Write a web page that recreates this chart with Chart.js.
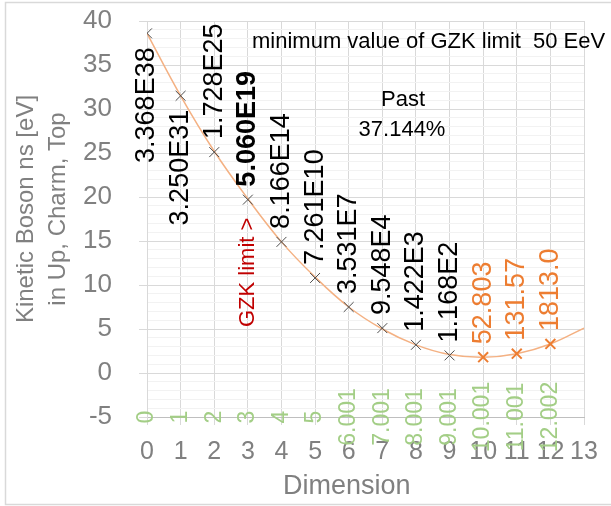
<!DOCTYPE html>
<html>
<head>
<meta charset="utf-8">
<script src="https://cdn.jsdelivr.net/npm/chart.js@4.4.1/dist/chart.umd.min.js"></script>
<style>
  html, body { margin: 0; padding: 0; background: #fff; }
  canvas { display: block; }
</style>
</head>
<body>
<canvas id="chart" width="611" height="506"></canvas>
<script>
// dimension vs kinetic energy
const dims = [0, 1, 2, 3, 4, 5, 6, 7, 8, 9, 10, 11, 12];
const kineticEv = [38.6, 31.5, 25.1, 19.7, 14.9, 10.8, 7.5, 5.1, 3.2, 2.0, 1.8, 2.2, 3.3];
const energyLabels = ['3.368E38', '3.250E31', '1.728E25', '5.060E19', '8.166E14', '7.261E10',
  '3.531E7', '9.548E4', '1.422E3', '1.168E2', '52.803', '131.57', '1813.0'];
const dimLabels = ['0', '1', '2', '3', '4', '5', '6.001', '7.001', '8.001', '9.001', '10.001', '11.001', '12.002'];
// polynomial trend, read at each integer dimension
const trendDims = [0, 1, 2, 3, 4, 5, 6, 7, 8, 9, 10, 11, 12, 13];
const trendEv = [38.6, 31.5, 25.2, 19.8, 14.9, 10.9, 7.5, 5.0, 3.2, 2.1, 1.8, 2.2, 3.3, 5.1];
const dimLabelLevel = -5;
const lastPast = 9;     // 0..9 black, rest orange
const gzkIndex = 3;
const labelsBelow = [0, 1];

Chart.defaults.font.family = 'Arial, "Liberation Sans", sans-serif';

const grey = '#808080';
const orange = '#ed7d31';
const FONT = 'Arial, "Liberation Sans", sans-serif';

const pts = (xs, ys) => xs.map((x, i) => ({ x, y: ys[i] }));

const annotations = {
  id: 'annotations',
  beforeDraw(chart) {
    const { ctx, width, height } = chart;
    ctx.save();
    ctx.fillStyle = '#fff';
    ctx.fillRect(0, 0, width, height);
    ctx.strokeStyle = '#d9d9d9';
    ctx.lineWidth = 1.5;
    ctx.strokeRect(5.5, 2.5, width + 10, height - 4);
    ctx.restore();
  },
  afterDatasetsDraw(chart) {
    const { ctx, chartArea: area, scales: { x, y } } = chart;
    const vertical = (text, px, py, align, font, color) => {
      ctx.save();
      ctx.translate(px, py);
      ctx.rotate(-Math.PI / 2);
      ctx.textAlign = align;
      ctx.textBaseline = 'middle';
      ctx.font = font;
      ctx.fillStyle = color;
      ctx.fillText(text, 0, 0);
      ctx.restore();
    };
    dims.forEach((d, i) => {
      const px = x.getPixelForValue(d);
      const py = y.getPixelForValue(kineticEv[i]);
      const font = (i === gzkIndex ? 'bold ' : '') + '27px ' + FONT;
      const color = i > lastPast ? orange : '#000';
      if (labelsBelow.includes(i)) vertical(energyLabels[i], px, py + 14, 'right', font, color);
      else vertical(energyLabels[i], px, py - 13, 'left', font, color);
      vertical(dimLabels[i], px, y.getPixelForValue(dimLabelLevel), 'center', '23px ' + FONT, '#a3ce86');
    });
    vertical('GZK limit >', x.getPixelForValue(dims[gzkIndex]),
      y.getPixelForValue(kineticEv[gzkIndex]) + 18, 'right', '22px ' + FONT, '#c00000');

    ctx.save();
    ctx.font = '22px ' + FONT;
    ctx.fillStyle = '#000';
    ctx.textBaseline = 'alphabetic';
    ctx.textAlign = 'left';
    ctx.fillText('minimum value of GZK limit', area.left + 105, area.top + 27);
    ctx.fillText('50 EeV', area.left + 386, area.top + 27);
    ctx.textAlign = 'center';
    ctx.fillText('Past', area.left + 256, area.top + 85);
    ctx.fillText('37.144%', area.left + 255, area.top + 115);
    ctx.restore();
  }
};

new Chart(document.getElementById('chart'), {
  type: 'scatter',
  data: {
    datasets: [
      {
        label: 'past',
        data: pts(dims.slice(0, lastPast + 1), kineticEv.slice(0, lastPast + 1)),
        pointStyle: 'crossRot',
        pointRadius: 7,
        pointBorderColor: '#4d4d4d',
        pointBorderWidth: 1,
      },
      {
        label: 'future',
        data: pts(dims.slice(lastPast + 1), kineticEv.slice(lastPast + 1)),
        pointStyle: 'crossRot',
        pointRadius: 7,
        pointBorderColor: orange,
        pointBorderWidth: 2,
      },
      {
        label: 'trend',
        data: pts(trendDims, trendEv),
        showLine: true,
        pointRadius: 0,
        borderColor: '#f4b183',
        borderWidth: 1.5,
        tension: 0.4,
      },
    ],
  },
  options: {
    responsive: false,
    animation: false,
    layout: { padding: { left: 0, top: 21, right: 27, bottom: 0 } },
    plugins: { legend: { display: false }, tooltip: { enabled: false } },
    scales: {
      x: {
        type: 'linear',
        min: 0,
        max: 13,
        afterFit: s => { s.height = 89; },
        ticks: { stepSize: 1, autoSkip: false, maxRotation: 0, color: grey, font: { size: 25 }, padding: 12 },
        grid: { color: '#d9d9d9', tickLength: 8 },
        border: { color: '#bfbfbf' },
        title: {
          display: true,
          text: 'Dimension     ',
          color: grey,
          font: { size: 27 },
          padding: { top: 0, bottom: 3 },
        },
      },
      y: {
        min: -5,
        max: 40,
        // fixed width, and no extra room for the half-height of the top label
        afterFit: s => { s.width = 147; s.paddingTop = 0; s.paddingBottom = 0; },
        ticks: {
          stepSize: 1,
          autoSkip: false,
          maxTicksLimit: 100,
          color: grey,
          font: { size: 26 },
          padding: 27,
          callback: v => (v % 5 === 0 ? v : ''),
        },
        grid: {
          color: c => (c.tick.value % 5 === 0 ? '#d9d9d9' : '#f2f2f2'),
          tickColor: c => (c.tick.value % 5 === 0 ? '#d9d9d9' : 'rgba(0,0,0,0)'),
          tickLength: 8,
        },
        border: { color: '#d9d9d9' },
        title: {
          display: true,
          text: ['   Kinetic Boson ns [eV]', '   in Up, Charm, Top'],
          color: grey,
          font: { size: 24, lineHeight: 1.35 },
          padding: { top: 10, bottom: 0 },
        },
      },
    },
  },
  plugins: [annotations],
});
</script>
</body>
</html>
